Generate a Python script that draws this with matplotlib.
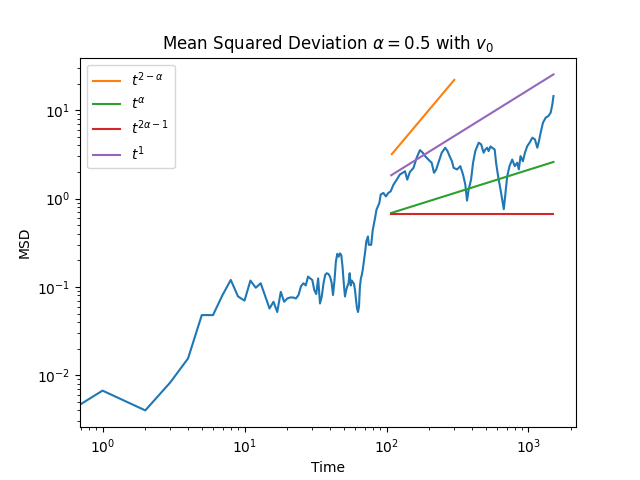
import matplotlib
matplotlib.use("Agg")
import matplotlib.pyplot as plt
import numpy as np

# MSD curve (t=0 has MSD 0, clipped on the log axis)
time = [0, 1, 2, 3, 4, 5, 6, 7, 8, 9, 10, 11, 12, 13, 14, 15, 16, 17, 18, 19,
        20, 21, 22, 23, 24, 25, 26, 27, 28, 29, 30, 31, 32, 33, 34, 35, 36, 37,
        38, 39, 40, 41, 42, 43, 44, 45, 46, 47, 48, 49, 50, 51, 52, 53, 54, 55,
        56, 57, 58, 59, 60, 61, 62, 63, 64, 65, 66, 67, 68, 69, 70, 71,
        72, 74, 75, 78, 80, 83, 85, 89, 91, 95, 99, 103, 107, 112, 118, 124,
        135, 140, 146, 155, 163, 172, 180, 187, 197, 208, 216, 224, 232, 245,
        259, 269, 278, 289, 297, 314, 331, 346, 359, 369, 379, 394, 407, 422,
        446, 464, 483, 497, 511, 524, 540, 554, 578, 591, 611, 635, 653, 670,
        689, 708, 735, 768, 801, 833, 855, 879, 913, 944, 980, 1018, 1064,
        1110, 1154, 1185, 1218, 1265, 1322, 1381, 1433, 1473, 1499]
msd = [0, 0.0067, 0.0040, 0.0083, 0.0155, 0.048, 0.048, 0.081, 0.12, 0.078,
       0.070, 0.118, 0.098, 0.110, 0.078, 0.057, 0.068, 0.052, 0.088, 0.068,
       0.074, 0.076, 0.076, 0.074, 0.081, 0.102, 0.110, 0.104, 0.131, 0.125,
       0.120, 0.092, 0.083, 0.125, 0.065, 0.078, 0.110, 0.137, 0.143, 0.140,
       0.131, 0.113, 0.081, 0.118, 0.194, 0.237, 0.220, 0.240, 0.230, 0.170,
       0.110, 0.078, 0.092, 0.102, 0.110, 0.143, 0.104, 0.118, 0.113, 0.108,
       0.092, 0.071, 0.057, 0.052, 0.060, 0.102, 0.125, 0.137, 0.156, 0.186,
       0.220, 0.263,
       0.327, 0.373, 0.30, 0.30, 0.44, 0.60, 0.75, 0.89, 1.11, 1.16, 1.06, 1.16,
       1.21, 1.44, 1.64, 1.87, 2.04, 1.64, 2.0, 2.23, 2.9, 3.54, 3.31, 3.03,
       2.77, 2.55, 1.96, 2.14, 2.55, 3.31, 3.77, 3.45, 3.03, 2.65, 2.23, 2.14,
       2.33, 1.87, 1.44, 0.95, 1.27, 1.64, 2.55, 3.45, 4.30, 4.11, 3.31, 3.60,
       3.77, 3.45, 3.90, 3.77, 3.60, 2.55, 1.79, 1.27, 0.97, 0.76, 1.16, 1.79,
       2.33, 2.77, 2.33, 2.55, 2.14, 3.03, 2.65, 3.31, 3.93, 4.30, 4.90, 4.68,
       3.77, 4.48, 5.58, 7.25, 8.26, 8.61, 9.42, 11.7, 14.5]

# reference power laws (start / end points)
fit_t = [108, 1499]
fit_t_short = [109, 300]
fit_2_minus_a = [3.19, 22.1]
fit_a = [0.688, 2.6]
fit_2a_minus_1 = [0.67, 0.67]
fit_1 = [1.84, 25.5]

plt.figure(figsize=(6.4, 4.8), dpi=100)
plt.plot(np.array(time), np.array(msd))
plt.plot(fit_t_short, fit_2_minus_a, label=r"$t^{2-\alpha}$")
plt.plot(fit_t, fit_a, label=r"$t^{\alpha}$")
plt.plot(fit_t, fit_2a_minus_1, label=r"$t^{2\alpha-1}$")
plt.plot(fit_t, fit_1, label=r"$t^{1}$")
plt.xscale("log")
plt.yscale("log")

plt.title(r"Mean Squared Deviation $\alpha = 0.5$ with $v_0$")
plt.xlabel("Time")
plt.ylabel("MSD")
plt.legend(loc="upper left")

plt.savefig("out.png")
plt.close()
